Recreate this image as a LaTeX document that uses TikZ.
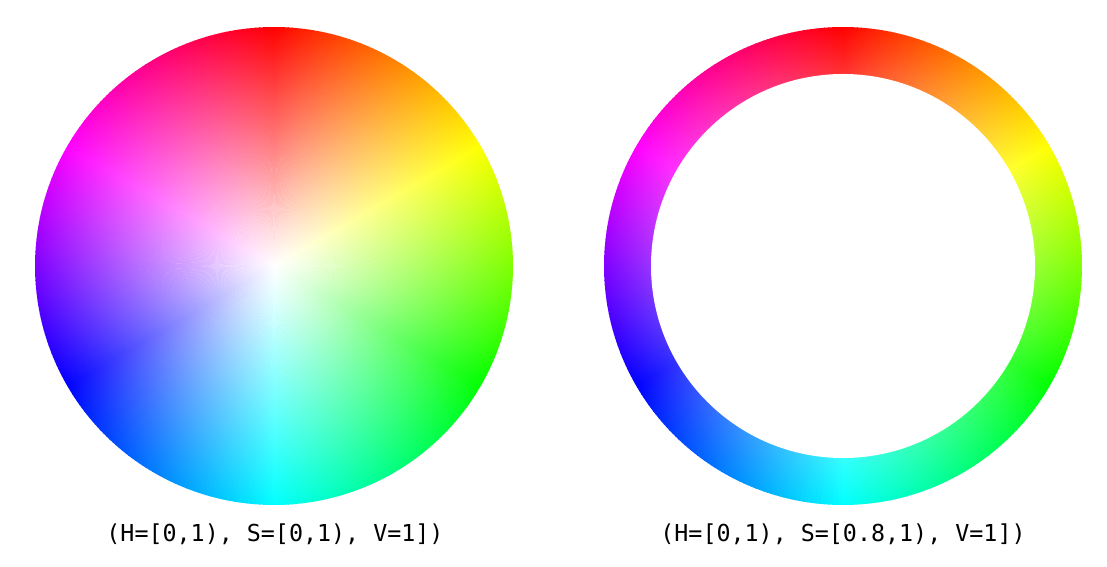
\documentclass[tikz,border=0pt]{standalone}
\usepackage{fontspec}
\setmonofont{DejaVu Sans Mono}
\usetikzlibrary{fadings}

% white in the middle, clear at the rim: saturation grows with the radius
\tikzfading[name=satfade, inner color=transparent!0, outer color=transparent!100]

\begin{document}
\begin{tikzpicture}[
    x=0.75pt, y=0.75pt,
    lbl/.style={font=\ttfamily\fontsize{17.5}{21}\selectfont, inner sep=0pt},
]
    \useasboundingbox (0,0) rectangle (1107,567);
    \def\R{239}
    \coordinate (lc) at (274,301);
    \coordinate (rc) at (843,301);

    % hue wedges, red on top, running clockwise
    \foreach \c in {lc,rc} {
        \foreach \i in {0,...,359} {
            \definecolor{huec}{Hsb}{\i,1,1}
            \fill[huec] (\c) -- ++(90-\i+0.6:\R) arc (90-\i+0.6:90-\i-0.6:\R) -- cycle;
        }
        \fill[white, path fading=satfade] (\c) circle (\R);
    }
    \fill[white] (rc) circle (192);

    \node[lbl] (llbl) at (275,33) {(H=[0,1), S=[0,1), V=1])};
    \node[lbl] (rlbl) at (843,33) {(H=[0,1), S=[0.8,1), V=1])};
\end{tikzpicture}
\end{document}
